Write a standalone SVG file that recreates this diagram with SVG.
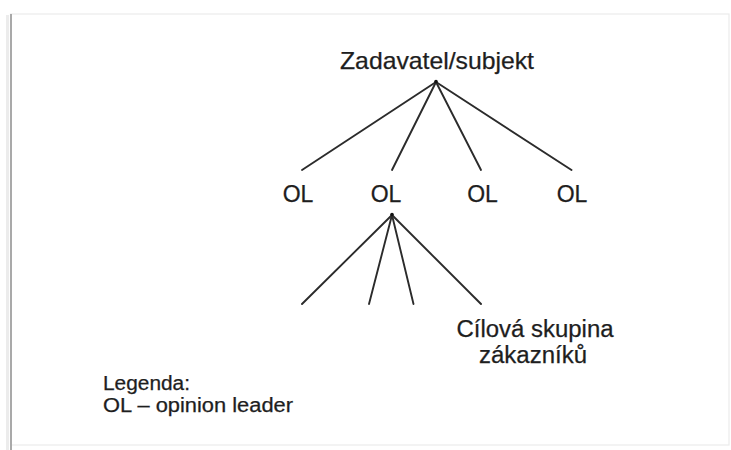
<svg xmlns="http://www.w3.org/2000/svg" width="731" height="450" viewBox="0 0 731 450">
<style>
.t{font-family:"Liberation Sans",Arial,sans-serif;fill:#1e1e1e;stroke:#1e1e1e;stroke-width:0.25}
.big{font-size:23px}
.top{font-size:24px}
.leg{font-size:19.5px}
.c line{stroke:#2b2b2b;stroke-width:1.9;stroke-linecap:round}
</style>
<rect width="731" height="450" fill="#fff"/>
<g id="frame">
<line x1="7.5" y1="15" x2="7.5" y2="450" stroke="#ececec" stroke-width="3"/>
<rect x="10.5" y="14" width="718.5" height="431" fill="none" stroke="#ebebeb" stroke-width="1.2"/>
<line x1="11" y1="14" x2="11" y2="450" stroke="#a9a9a9" stroke-width="2"/>
</g>
<g class="c" id="connectors">
<line x1="436" y1="82" x2="302" y2="170"/>
<line x1="436" y1="82" x2="392" y2="170"/>
<line x1="436" y1="82" x2="481" y2="170"/>
<line x1="436" y1="82" x2="571.5" y2="170"/>
<line x1="392" y1="215" x2="302" y2="304"/>
<line x1="392" y1="215" x2="369" y2="304"/>
<line x1="392" y1="215" x2="413.5" y2="304"/>
<line x1="392" y1="215" x2="481" y2="304"/>
<circle cx="436" cy="81.5" r="1.8" fill="#111"/>
<circle cx="392" cy="214.5" r="1.8" fill="#111"/>
</g>
<g id="root"><text class="t top" x="437" y="68.5" text-anchor="middle" textLength="194" lengthAdjust="spacingAndGlyphs">Zadavatel/subjekt</text></g>
<g id="ol1"><text class="t big" x="298" y="202" text-anchor="middle">OL</text></g>
<g id="ol2"><text class="t big" x="386" y="202" text-anchor="middle">OL</text></g>
<g id="ol3"><text class="t big" x="482.5" y="202" text-anchor="middle">OL</text></g>
<g id="ol4"><text class="t big" x="572" y="202" text-anchor="middle">OL</text></g>
<g id="target">
<text class="t big" x="535" y="336.5" text-anchor="middle" textLength="157" lengthAdjust="spacingAndGlyphs">Cílová skupina</text>
<text class="t big" x="533" y="363" text-anchor="middle" textLength="108" lengthAdjust="spacingAndGlyphs">zákazníků</text>
</g>
<g id="legend">
<text class="t leg" x="103" y="390" textLength="87" lengthAdjust="spacingAndGlyphs">Legenda:</text>
<text class="t leg" x="103" y="412" textLength="190" lengthAdjust="spacingAndGlyphs">OL – opinion leader</text>
</g>
</svg>
